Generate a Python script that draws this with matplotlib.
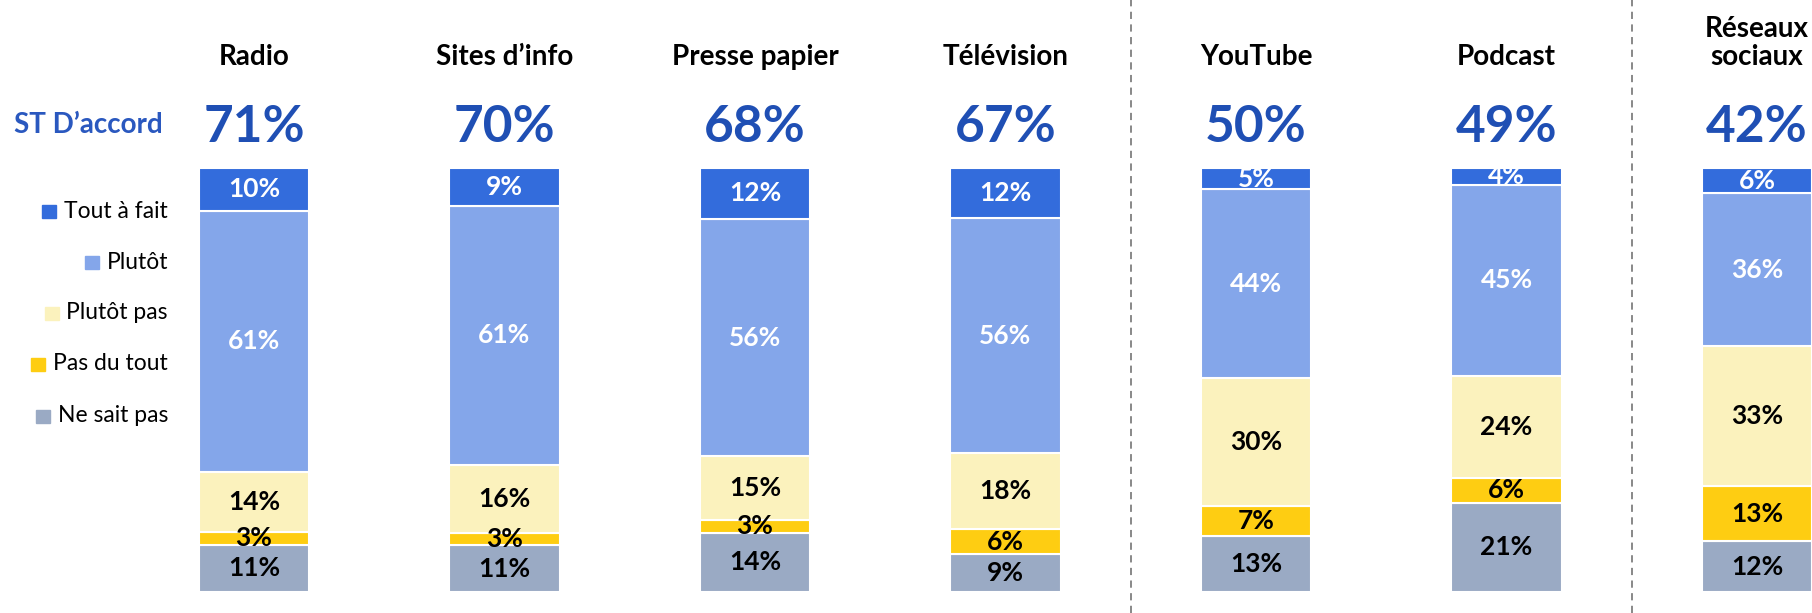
import numpy as np
import matplotlib.pyplot as plt
from matplotlib import transforms
from matplotlib.patches import Rectangle

plt.rcParams['font.family'] = ['Lato', 'DejaVu Sans']

medias = ['Radio', 'Sites d\u2019info', 'Presse papier', 'Télévision',
          'YouTube', 'Podcast', 'Réseaux\nsociaux']
st_accord = [71, 70, 68, 67, 50, 49, 42]
tout_a_fait = [10, 9, 12, 12, 5, 4, 6]
plutot = [61, 61, 56, 56, 44, 45, 36]
plutot_pas = [14, 16, 15, 18, 30, 24, 33]
pas_du_tout = [3, 3, 3, 6, 7, 6, 13]
ne_sait_pas = [11, 11, 14, 9, 13, 21, 12]

reponses = ['Tout à fait', 'Plutôt', 'Plutôt pas', 'Pas du tout', 'Ne sait pas']
couleurs = ['#336cdc', '#84a6ea', '#fbf2bd', '#fecd12', '#9aaac4']
coul_txt = ['white', 'white', 'black', 'black', 'black']
separateurs = [3.5, 5.5]

W, H = 1812, 613
fig = plt.figure(figsize=(W / 100, H / 100), dpi=100)
ax = fig.add_axes([0, 21 / H, 1, 424 / H])
ax.set_xlim(-254 / 250.5, (W - 254) / 250.5)
ax.set_ylim(0, 100)
ax.axis('off')

x = np.arange(len(medias))
series = [ne_sait_pas, pas_du_tout, plutot_pas, plutot, tout_a_fait]
cols = couleurs[::-1]
tcols = coul_txt[::-1]
totaux = np.sum(series, axis=0)
bas = np.zeros(len(medias))
for serie, c, tc in zip(series, cols, tcols):
    h = np.array(serie) / totaux * 100
    ax.bar(x, h, bottom=bas, width=0.443, color=c, edgecolor='white', linewidth=1.5)
    for xi, b, hi, v in zip(x, bas, h, serie):
        ax.text(xi, b + hi / 2, f'{v}%', ha='center', va='center', color=tc,
                fontsize=19, fontweight='bold')
    bas += h

for s in separateurs:
    ax.axvline(s, ymin=-21 / 424, ymax=592 / 424, clip_on=False, color='#7f7f7f',
               lw=1.3, linestyle=(0, (4, 3)))

trans = transforms.blended_transform_factory(ax.transData, fig.transFigure)
for xi, nom, pct in zip(x, medias, st_accord):
    ax.text(xi, 1 - 70 / H, nom, transform=trans, ha='center', va='bottom',
            fontsize=20, fontweight='bold', linespacing=1.1)
    ax.text(xi, 1 - 142 / H, f'{pct}%', transform=trans, ha='center', va='baseline',
            fontsize=37, fontweight='bold', color='#1f4fb4')

fig.text(88 / W, 1 - 133 / H, 'ST D\u2019accord', ha='center', va='baseline',
         fontsize=20, fontweight='bold', color='#2a58bf')

# legende a gauche
ys = [211, 262, 313, 364, 416]
txts = []
for lab, y in zip(reponses, ys):
    txts.append(fig.text(168 / W, 1 - y / H, lab, ha='right', va='center', fontsize=16.5))
fig.canvas.draw()
for t, c, y in zip(txts, couleurs, ys):
    bb = t.get_window_extent()
    x0 = bb.x0 - 8 - 14
    fig.add_artist(Rectangle((x0 / W, 1 - (y + 7) / H), 14 / W, 13 / H,
                             transform=fig.transFigure, color=c))

fig.savefig('out.png', dpi=100)
